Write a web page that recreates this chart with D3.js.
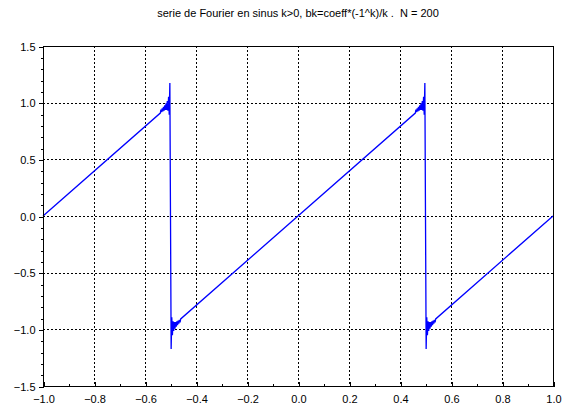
<!DOCTYPE html>
<html>
<head>
<meta charset="utf-8">
<script src="https://cdn.jsdelivr.net/npm/d3@7"></script>
<style>
  html, body { margin: 0; padding: 0; background: #fff; }
  svg { display: block; }
  text { font-family: "Liberation Sans", Arial, sans-serif; fill: #000; }
  .title { white-space: pre; }
</style>
</head>
<body>
<svg id="chart" width="562" height="413"></svg>
<script>
// Partial Fourier sum (N = 200) of the sawtooth, sampled as x / y pairs,
// including the Gibbs ripples on both sides of each jump.
const sumX = [
  -1.0000, -0.5400, -0.5375, -0.5350, -0.5325, -0.5300, -0.5275, -0.5250, -0.5225,
  -0.5200, -0.5175, -0.5150, -0.5125, -0.5100, -0.5075, -0.5050, -0.5025, -0.5000,
  -0.4975, -0.4950, -0.4925, -0.4900, -0.4875, -0.4850, -0.4825, -0.4800, -0.4775,
  -0.4750, -0.4725, -0.4700, -0.4675, -0.4650, -0.4625, -0.4600,
   0.4600,  0.4625,  0.4650,  0.4675,  0.4700,  0.4725,  0.4750,  0.4775,  0.4800,
   0.4825,  0.4850,  0.4875,  0.4900,  0.4925,  0.4950,  0.4975,  0.5000,
   0.5025,  0.5050,  0.5075,  0.5100,  0.5125,  0.5150,  0.5175,  0.5200,  0.5225,
   0.5250,  0.5275,  0.5300,  0.5325,  0.5350,  0.5375,  0.5400,  1.0000
];
const sumY = [
   0.000,  0.908,  0.938,  0.916,  0.950,  0.923,  0.963,  0.930,  0.977,
   0.935,  0.994,  0.936,  1.015,  0.930,  1.051,  0.893,  1.174,  0.000,
  -1.174, -0.893, -1.051, -0.930, -1.015, -0.936, -0.994, -0.935, -0.977,
  -0.930, -0.963, -0.923, -0.950, -0.916, -0.938, -0.908,
   0.908,  0.938,  0.916,  0.950,  0.923,  0.963,  0.930,  0.977,  0.935,
   0.994,  0.936,  1.015,  0.930,  1.051,  0.893,  1.174,  0.000,
  -1.174, -0.893, -1.051, -0.930, -1.015, -0.936, -0.994, -0.935, -0.977,
  -0.930, -0.963, -0.923, -0.950, -0.916, -0.938, -0.908,  0.000
];

const xTickValues = [-1.0, -0.8, -0.6, -0.4, -0.2, 0.0, 0.2, 0.4, 0.6, 0.8, 1.0];
const xTickLabels = ["\u22121.0", "\u22120.8", "\u22120.6", "\u22120.4", "\u22120.2", "0.0", "0.2", "0.4", "0.6", "0.8", "1.0"];
const yTickValues = [-1.5, -1.0, -0.5, 0.0, 0.5, 1.0, 1.5];
const yTickLabels = ["\u22121.5", "\u22121.0", "\u22120.5", "0.0", "0.5", "1.0", "1.5"];
const titleText = "serie de Fourier en sinus k>0, bk=coeff*(-1^k)/k .  N = 200";

const svg = d3.select("#chart");
const W = 562, H = 413;
const plot = { left: 43, right: 553, top: 46, bottom: 386 };

svg.append("rect").attr("width", W).attr("height", H).attr("fill", "#fff");

const x = d3.scaleLinear().domain([-1, 1]).range([plot.left, plot.right]);
const y = d3.scaleLinear().domain([-1.5, 1.5]).range([plot.bottom, plot.top]);

// dotted grid at the major ticks
const grid = svg.append("g").attr("stroke", "#000").attr("stroke-width", 1)
  .attr("stroke-dasharray", "2,2").attr("shape-rendering", "crispEdges");
xTickValues.slice(1, -1).forEach(v => {
  grid.append("line").attr("x1", Math.round(x(v)) + 0.5).attr("x2", Math.round(x(v)) + 0.5)
    .attr("y1", plot.top).attr("y2", plot.bottom);
});
yTickValues.slice(1, -1).forEach(v => {
  grid.append("line").attr("y1", Math.round(y(v)) + 0.5).attr("y2", Math.round(y(v)) + 0.5)
    .attr("x1", plot.left).attr("x2", plot.right);
});

// the curve
const pts = sumX.map((v, i) => [v, sumY[i]]);
const line = d3.line().x(d => x(d[0])).y(d => y(d[1]));
svg.append("path").datum(pts).attr("d", line)
  .attr("fill", "none").attr("stroke", "#0000ff").attr("stroke-width", 1.3);

// frame
svg.append("rect")
  .attr("x", plot.left + 0.5).attr("y", plot.top + 0.5)
  .attr("width", plot.right - plot.left).attr("height", plot.bottom - plot.top)
  .attr("fill", "none").attr("stroke", "#000").attr("stroke-width", 1)
  .attr("shape-rendering", "crispEdges");

// bottom axis: major and minor ticks pointing up into the plot
const xAxis = d3.axisBottom(x).tickValues(xTickValues)
  .tickFormat((d, i) => xTickLabels[i]).tickSizeInner(-5).tickSizeOuter(0).tickPadding(9);
const gx = svg.append("g").attr("transform", `translate(0.5,${plot.bottom + 0.5})`).call(xAxis);
gx.select(".domain").remove();
gx.selectAll(".tick line").attr("stroke", "#000").attr("shape-rendering", "crispEdges");
gx.selectAll(".tick text").attr("font-size", 11).attr("dy", "0.71em")
  .attr("font-family", "Liberation Sans, Arial, sans-serif");
const xMinor = d3.axisBottom(x).tickValues(d3.range(-0.9, 1.0, 0.2))
  .tickFormat("").tickSizeInner(-3).tickSizeOuter(0);
const gxm = svg.append("g").attr("transform", `translate(0.5,${plot.bottom + 0.5})`).call(xMinor);
gxm.select(".domain").remove();
gxm.selectAll(".tick line").attr("stroke", "#000").attr("shape-rendering", "crispEdges");

// left axis: ticks pointing outward
const yAxis = d3.axisLeft(y).tickValues(yTickValues)
  .tickFormat((d, i) => yTickLabels[i]).tickSizeInner(5).tickSizeOuter(0).tickPadding(3);
const gy = svg.append("g").attr("transform", `translate(${plot.left + 0.5},0.5)`).call(yAxis);
gy.select(".domain").remove();
gy.selectAll(".tick line").attr("stroke", "#000").attr("shape-rendering", "crispEdges");
gy.selectAll(".tick text").attr("font-size", 11)
  .attr("font-family", "Liberation Sans, Arial, sans-serif");
const yMinorVals = d3.range(-1.4, 1.5, 0.1).filter(v => Math.abs(v * 2 - Math.round(v * 2)) > 1e-6);
const yMinor = d3.axisLeft(y).tickValues(yMinorVals).tickFormat("").tickSizeInner(3).tickSizeOuter(0);
const gym = svg.append("g").attr("transform", `translate(${plot.left + 0.5},0.5)`).call(yMinor);
gym.select(".domain").remove();
gym.selectAll(".tick line").attr("stroke", "#000").attr("shape-rendering", "crispEdges");

// title
svg.append("text").attr("class", "title")
  .attr("x", (plot.left + plot.right) / 2).attr("y", 17)
  .attr("text-anchor", "middle").attr("font-size", 11).text(titleText);
</script>
</body>
</html>
